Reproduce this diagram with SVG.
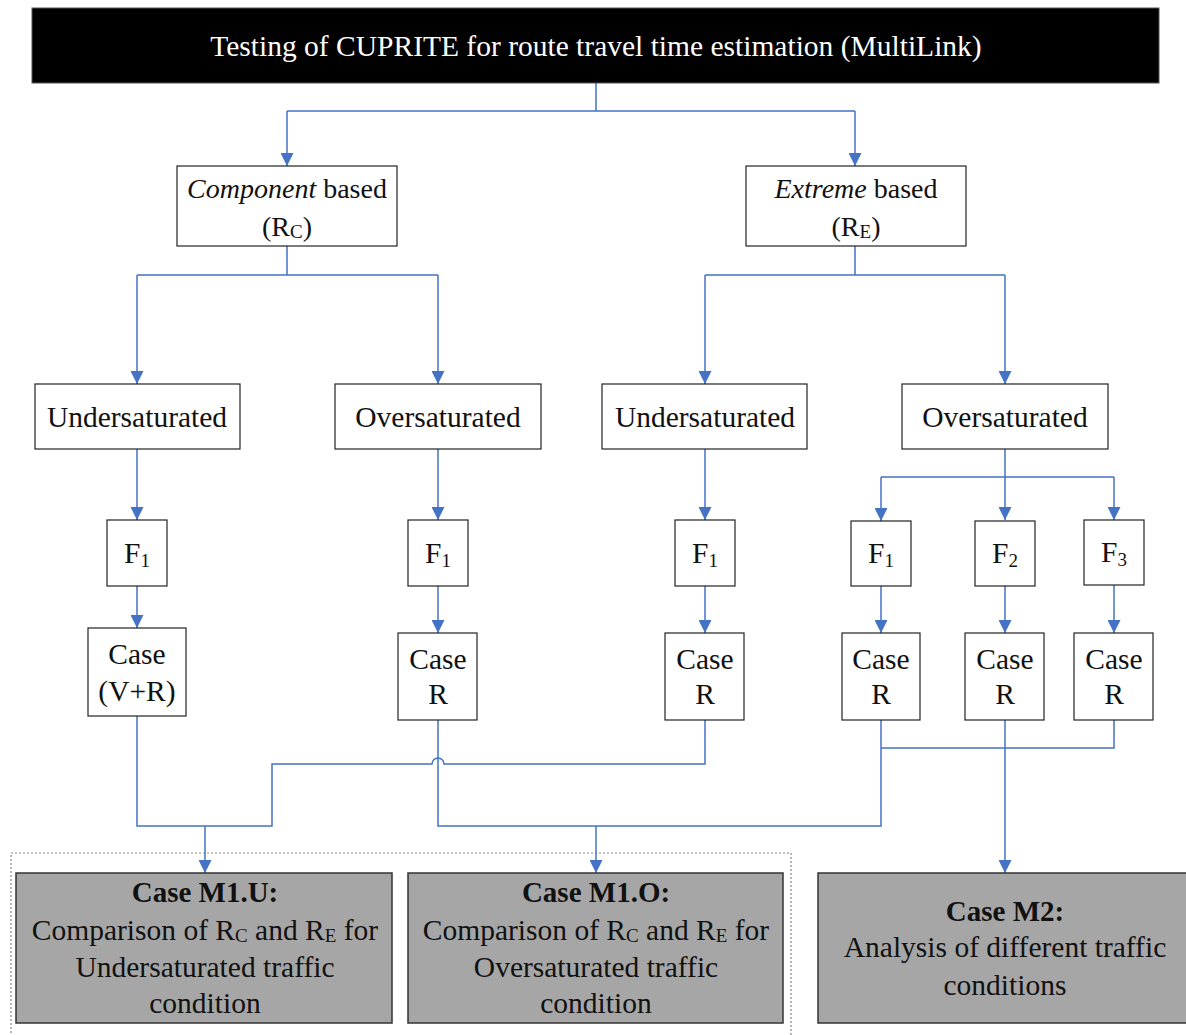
<svg xmlns="http://www.w3.org/2000/svg" width="1186" height="1035" viewBox="0 0 1186 1035">
<style>
text{font-family:"Liberation Serif","Times New Roman",serif;font-size:29.5px;fill:#111;text-anchor:middle}
.title{fill:#fff;font-size:29.5px}
.box{fill:#fff;stroke:#222;stroke-width:1.2}
.res{fill:#a6a6a6;stroke:#333;stroke-width:1.5}
.b{font-weight:bold;font-size:29px}
.hd{font-size:28px}
.sub{font-size:19px}
.c{fill:none;stroke:#4472c4;stroke-width:1.5}
.ca{fill:none;stroke:#4472c4;stroke-width:1.5;marker-end:url(#ah)}
</style>
<defs>
<marker id="ah" viewBox="0 0 10 10" refX="10" refY="5" markerWidth="14" markerHeight="13" markerUnits="userSpaceOnUse" orient="auto">
<path d="M0,0 L10,5 L0,10 z" fill="#4472c4"/>
</marker>
</defs>

<rect x="11" y="853" width="780" height="190" fill="none" stroke="#888" stroke-width="1.2" stroke-dasharray="2,2"/>

<g id="connectors">
<path class="c" d="M596,83 V111 M287,111 H855"/>
<path class="ca" d="M287,111 V166"/>
<path class="ca" d="M855,111 V166"/>
<path class="c" d="M287,246 V275 M137,275 H438"/>
<path class="ca" d="M137,275 V384"/>
<path class="ca" d="M438,275 V384"/>
<path class="c" d="M855,246 V275 M705,275 H1005"/>
<path class="ca" d="M705,275 V384"/>
<path class="ca" d="M1005,275 V384"/>
<path class="ca" d="M137,449 V520"/>
<path class="ca" d="M438,449 V520"/>
<path class="ca" d="M705,449 V520"/>
<path class="c" d="M1005,449 V477 M881,477 H1114"/>
<path class="ca" d="M881,477 V521"/>
<path class="ca" d="M1005,477 V520"/>
<path class="ca" d="M1114,477 V520"/>
<path class="ca" d="M137,586 V628"/>
<path class="ca" d="M438,586 V633"/>
<path class="ca" d="M705,586 V633"/>
<path class="ca" d="M881,586 V633"/>
<path class="ca" d="M1005,586 V633"/>
<path class="ca" d="M1114,585 V633"/>
<path class="c" d="M137,716 V826 H272 V764 H432 A6,6 0 0 1 444,764 H705 V720"/>
<path class="ca" d="M205,826 V873"/>
<path class="c" d="M438,720 V826 H881 V720"/>
<path class="ca" d="M596,826 V873"/>
<path class="c" d="M881,748 H1114 V720"/>
<path class="ca" d="M1005,720 V873"/>
</g>

<g id="title">
<rect x="32" y="8" width="1127" height="75" fill="#000" stroke="#555" stroke-width="1"/>
<text class="title" x="596" y="56">Testing of CUPRITE for route travel time estimation (MultiLink)</text>
</g>

<g id="component">
<rect class="box" x="177" y="166" width="220" height="80"/>
<text class="hd" x="287" y="198"><tspan font-style="italic">Component</tspan> based</text>
<text class="hd" x="287" y="236">(R<tspan class="sub" dy="2">C</tspan><tspan dy="-2">)</tspan></text>
</g>
<g id="extreme">
<rect class="box" x="746" y="166" width="220" height="80"/>
<text class="hd" x="856" y="198"><tspan font-style="italic">Extreme</tspan> based</text>
<text class="hd" x="856" y="236">(R<tspan class="sub" dy="2">E</tspan><tspan dy="-2">)</tspan></text>
</g>

<g id="under-c">
<rect class="box" x="35" y="384" width="205" height="65"/>
<text x="137" y="427">Undersaturated</text>
</g>
<g id="over-c">
<rect class="box" x="335" y="384" width="206" height="65"/>
<text x="438" y="427">Oversaturated</text>
</g>
<g id="under-e">
<rect class="box" x="602" y="384" width="205" height="65"/>
<text x="705" y="427">Undersaturated</text>
</g>
<g id="over-e">
<rect class="box" x="902" y="384" width="206" height="65"/>
<text x="1005" y="427">Oversaturated</text>
</g>

<g id="f1-uc">
<rect class="box" x="107" y="520" width="60" height="66"/>
<text x="137" y="563">F<tspan class="sub" dy="4">1</tspan></text>
</g>
<g id="f1-oc">
<rect class="box" x="408" y="520" width="60" height="66"/>
<text x="438" y="563">F<tspan class="sub" dy="4">1</tspan></text>
</g>
<g id="f1-ue">
<rect class="box" x="675" y="520" width="60" height="66"/>
<text x="705" y="563">F<tspan class="sub" dy="4">1</tspan></text>
</g>
<g id="f1-oe">
<rect class="box" x="851" y="521" width="60" height="65"/>
<text x="881" y="563">F<tspan class="sub" dy="4">1</tspan></text>
</g>
<g id="f2-oe">
<rect class="box" x="975" y="521" width="60" height="65"/>
<text x="1005" y="563">F<tspan class="sub" dy="4">2</tspan></text>
</g>
<g id="f3-oe">
<rect class="box" x="1084" y="520" width="60" height="65"/>
<text x="1114" y="562">F<tspan class="sub" dy="4">3</tspan></text>
</g>

<g id="case-vr">
<rect class="box" x="88" y="628" width="98" height="88"/>
<text x="137" y="664">Case</text>
<text x="137" y="701">(V+R)</text>
</g>
<g id="case-r-oc">
<rect class="box" x="398" y="633" width="79" height="87"/>
<text x="438" y="669">Case</text>
<text x="438" y="704">R</text>
</g>
<g id="case-r-ue">
<rect class="box" x="665" y="633" width="79" height="87"/>
<text x="705" y="669">Case</text>
<text x="705" y="704">R</text>
</g>
<g id="case-r-f1">
<rect class="box" x="842" y="633" width="78" height="87"/>
<text x="881" y="669">Case</text>
<text x="881" y="704">R</text>
</g>
<g id="case-r-f2">
<rect class="box" x="965" y="633" width="79" height="87"/>
<text x="1005" y="669">Case</text>
<text x="1005" y="704">R</text>
</g>
<g id="case-r-f3">
<rect class="box" x="1074" y="633" width="79" height="87"/>
<text x="1114" y="669">Case</text>
<text x="1114" y="704">R</text>
</g>

<g id="m1u">
<rect class="res" x="16" y="873" width="376" height="150"/>
<text class="b" x="205" y="902">Case M1.U:</text>
<text x="205" y="940">Comparison of R<tspan class="sub" dy="2">C</tspan><tspan dy="-2"> and R</tspan><tspan class="sub" dy="2">E</tspan><tspan dy="-2"> for</tspan></text>
<text x="205" y="977">Undersaturated traffic</text>
<text x="205" y="1013">condition</text>
</g>
<g id="m1o">
<rect class="res" x="408" y="873" width="375" height="150"/>
<text class="b" x="596" y="902">Case M1.O:</text>
<text x="596" y="940">Comparison of R<tspan class="sub" dy="2">C</tspan><tspan dy="-2"> and R</tspan><tspan class="sub" dy="2">E</tspan><tspan dy="-2"> for</tspan></text>
<text x="596" y="977">Oversaturated traffic</text>
<text x="596" y="1013">condition</text>
</g>
<g id="m2">
<rect class="res" x="818" y="873" width="372" height="150"/>
<text class="b" x="1005" y="921">Case M2:</text>
<text x="1005" y="957">Analysis of different traffic</text>
<text x="1005" y="995">conditions</text>
</g>
</svg>
